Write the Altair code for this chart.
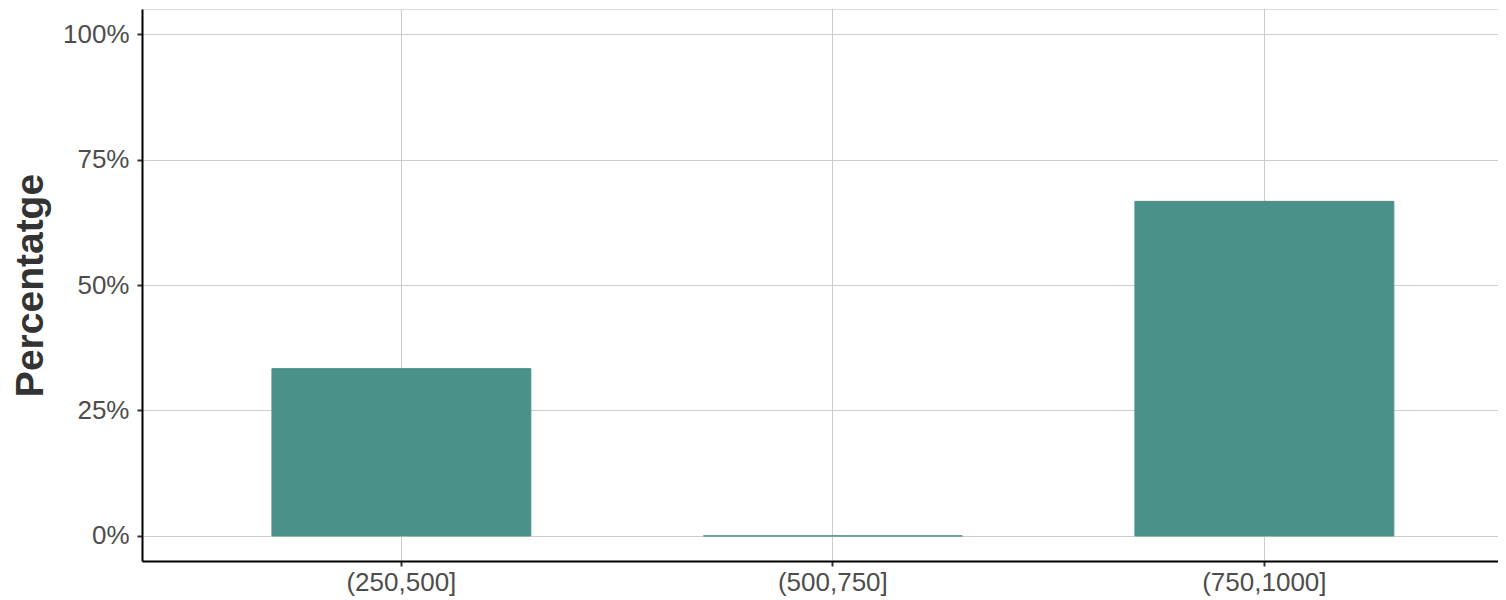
import altair as alt
import pandas as pd

categories = ["(250,500]", "(500,750]", "(750,1000]"]
percentages = [1/3, 0.0, 2/3]
y_ticks = [0, 0.25, 0.5, 0.75, 1.0]

df = pd.DataFrame({"bin": categories, "pct": percentages})

bars = alt.Chart(df).mark_bar(color="#4A918A", stroke="#4A918A", strokeWidth=1).encode(
    x=alt.X("bin:N", sort=categories, title=None,
            scale=alt.Scale(paddingInner=0.4, paddingOuter=0.2713, align=0.555),
            axis=alt.Axis(labelAngle=0, labelFont="Liberation Sans", labelFontSize=26,
                          labelColor="#4D4D4D", labelPadding=3,
                          tickColor="#333333", tickWidth=2, tickSize=5,
                          domainColor="black", domainWidth=2,
                          grid=True, gridColor="#CCCCCC", gridWidth=1)),
    y=alt.Y("pct:Q", title="Percentatge",
            scale=alt.Scale(domain=[-0.05, 1.05], nice=False, zero=False),
            axis=alt.Axis(values=y_ticks, format=".0%", labelFont="Liberation Sans",
                          labelFontSize=26, labelColor="#4D4D4D", labelPadding=8,
                          tickColor="#333333", tickWidth=2, tickSize=5,
                          domainColor="black", domainWidth=2,
                          grid=True, gridColor="#CCCCCC", gridWidth=1,
                          titleFont="Liberation Sans", titleFontSize=39,
                          titleFontWeight="bold", titleColor="#333333",
                          titlePadding=12)),
)

chart = bars.properties(
    width=1356, height=552,
    autosize=alt.AutoSizeParams(type="none"),
    padding={"left": 134, "top": 1, "right": 0, "bottom": 37},
).configure_view(stroke=None).configure(background="white")

chart.save("out.html", embed_options={"renderer": "svg", "actions": False})
